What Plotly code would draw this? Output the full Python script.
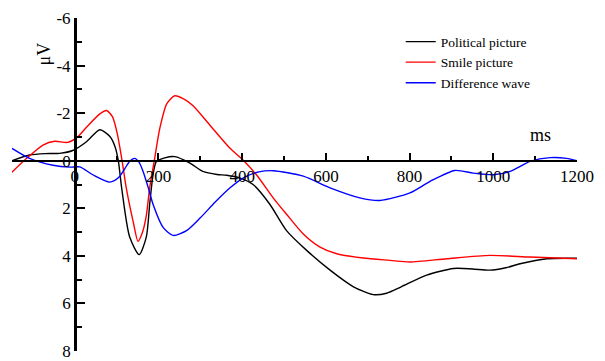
import plotly.graph_objects as go

# ---- data ----
pol_ms = [-150, -108, -70, -36, -5, 28, 60, 84, 96, 104, 112, 131, 154, 171, 179, 187,
          195, 215, 239, 275, 306, 340, 363, 395, 426, 466, 506, 554, 610, 666, 713, 745, 780, 841,
          905, 950, 992, 1030, 1064, 1128, 1200]
pol_uv = [0.0, -0.24, -0.3, -0.31, -0.43, -0.8, -1.3, -1.02, -0.6, 0.0, 1.14, 3.2, 3.95,
          3.2, 1.83, 0.59, 0.03, -0.12, -0.17, 0.1, 0.45, 0.58, 0.61, 0.73, 1.0, 1.83, 2.94,
          3.77, 4.6, 5.3, 5.63, 5.57, 5.3, 4.81, 4.53, 4.55, 4.6, 4.5, 4.33, 4.12, 4.1]

smi_ms = [-150, -115, -76, -48, -17, 5, 29, 60, 76, 90, 102, 113, 123, 140, 151, 162, 171,
          179, 190, 203, 220, 239, 260, 282, 323, 371, 402, 434, 474, 506, 546, 586, 626, 689, 753,
          801, 889, 992, 1088, 1200]
smi_uv = [0.48, -0.1, -0.66, -0.82, -0.77, -0.97, -1.43, -1.97, -2.11, -1.85, -1.1, 0.0, 1.14,
          2.6, 3.39, 3.0, 2.3, 1.14, 0.0, -1.35, -2.4, -2.73, -2.6, -2.32, -1.49, -0.52, -0.03, 0.59,
          1.56, 2.25, 3.08, 3.63, 3.91, 4.09, 4.19, 4.26, 4.12, 3.98, 4.05, 4.12]

dif_ms = [-150, -108, -52, -12, 12, 43, 84, 104, 119, 131, 143, 153, 163, 175, 187, 211, 235, 267,
          300, 335, 371, 405, 440, 474, 546, 610, 681, 729, 801, 849, 908, 952, 1000, 1040, 1088,
          1136, 1175, 1200]
dif_uv = [-0.52, -0.1, 0.19, 0.27, 0.26, 0.59, 0.9, 0.72, 0.35, 0.03, -0.1, 0.05, 0.44, 1.1, 1.83,
          2.8, 3.14, 2.94, 2.4, 1.75, 1.14, 0.7, 0.47, 0.42, 0.65, 1.14, 1.56, 1.67, 1.35, 0.87, 0.41,
          0.52, 0.59, 0.45, 0.03, -0.13, -0.1, 0.0]

series_names = ["Political picture", "Smile picture", "Difference wave"]
series_colors = ["#000000", "#ff0000", "#0000ff"]

x_ticks = [0, 200, 400, 600, 800, 1000, 1200]
x_minor = [100, 300, 500, 700, 900, 1100]
y_ticks = [-6, -4, -2, 0, 2, 4, 6, 8]
y_tick_text = ["-6", "-4", "-2", "0", "2", "4", "6", "8"]
y_minor = [-5, -3, -1, 1, 3, 5, 7]

X_RANGE = [-150, 1200]
Y_RANGE = [8, -6]

SERIF = "Liberation Serif"

fig = go.Figure()
for xs, ys, name, col in zip([pol_ms, smi_ms, dif_ms], [pol_uv, smi_uv, dif_uv],
                             series_names, series_colors):
    fig.add_trace(go.Scatter(x=xs, y=ys, mode="lines", name=name,
                             line=dict(color=col, width=1.4, shape="spline", smoothing=0.7)))

fig.update_layout(
    width=605, height=361,
    margin=dict(l=12, r=28, t=18, b=10, autoexpand=False),
    paper_bgcolor="white", plot_bgcolor="white",
    font=dict(family=SERIF, color="black"),
    showlegend=True,
    legend=dict(x=0.688, y=0.975, xanchor="left", yanchor="top",
                font=dict(family=SERIF, size=13.5, color="black"),
                bgcolor="rgba(0,0,0,0)", tracegroupgap=0),
    xaxis=dict(range=X_RANGE, anchor="free", position=8 / 14, automargin=False,
               showline=True, linecolor="black", linewidth=2,
               ticks="inside", ticklen=7, tickwidth=2, tickcolor="black",
               tickvals=x_ticks, ticktext=[str(v) for v in x_ticks],
               minor=dict(tickvals=x_minor, ticks="inside", ticklen=4, tickwidth=2,
                          tickcolor="black", showgrid=False),
               showgrid=False, zeroline=False, ticklabeloverflow="allow",
               tickfont=dict(family=SERIF, size=17, color="black")),
    yaxis=dict(range=Y_RANGE, anchor="free", position=150 / 1350, automargin=False,
               showline=True, linecolor="black", linewidth=2.5,
               ticks="inside", ticklen=8, tickwidth=2, tickcolor="black",
               tickvals=y_ticks, ticktext=y_tick_text,
               minor=dict(tickvals=y_minor, ticks="inside", ticklen=5, tickwidth=2,
                          tickcolor="black", showgrid=False),
               showgrid=False, zeroline=False, ticklabeloverflow="allow",
               tickfont=dict(family=SERIF, size=17, color="black")),
    annotations=[
        dict(text="μV", xref="paper", yref="paper", x=0.037, y=0.934, showarrow=False,
             textangle=-90, font=dict(family=SERIF, size=18, color="black")),
        dict(text="ms", xref="paper", yref="paper", x=0.9575, y=0.649, showarrow=False,
             font=dict(family=SERIF, size=18, color="black")),
    ],
)

fig.write_html("out.html")
